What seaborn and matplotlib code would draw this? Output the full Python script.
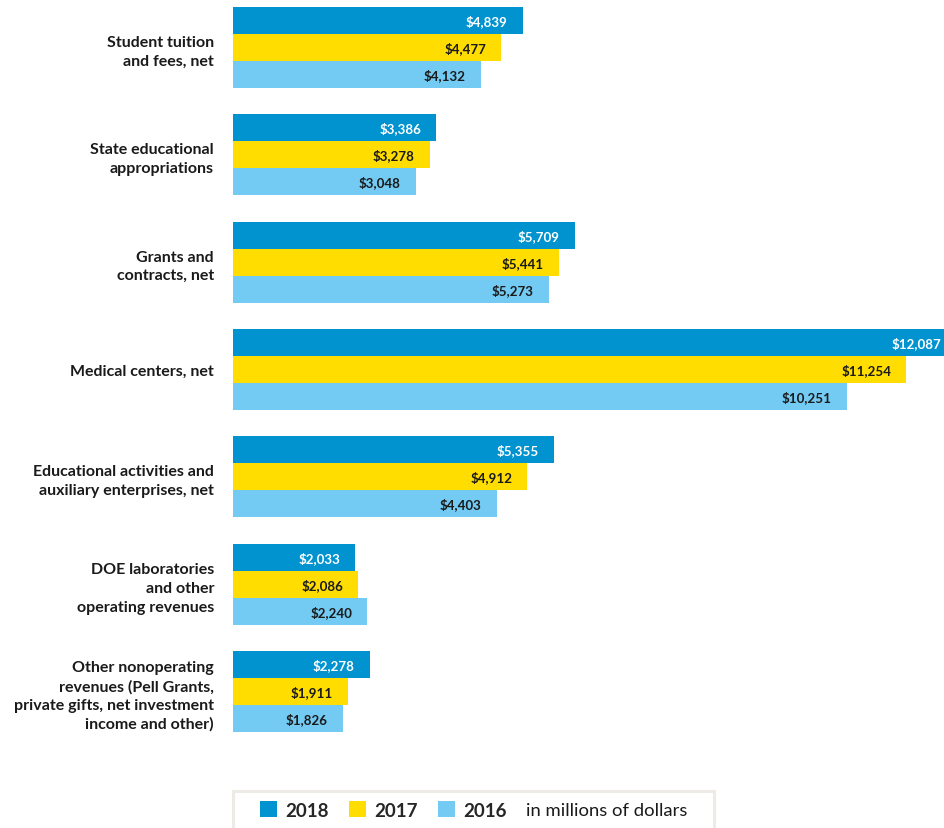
import matplotlib
matplotlib.use("Agg")
import matplotlib.pyplot as plt
from matplotlib.patches import Rectangle, Patch
import pandas as pd
import seaborn as sns

categories = [
    "Student tuition\nand fees, net",
    "State educational\nappropriations",
    "Grants and\ncontracts, net",
    "Medical centers, net",
    "Educational activities and\nauxiliary enterprises, net",
    "DOE laboratories\nand other\noperating revenues",
    "Other nonoperating\nrevenues (Pell Grants,\nprivate gifts, net investment\nincome and other)",
]
years = ["2018", "2017", "2016"]
values_2018 = [4839, 3386, 5709, 12087, 5355, 2033, 2278]
values_2017 = [4477, 3278, 5441, 11254, 4912, 2086, 1911]
values_2016 = [4132, 3048, 5273, 10251, 4403, 2240, 1826]
colors = ["#0093CF", "#FFDD00", "#73CBF3"]
label_colors = ["white", "#1a1a1a", "#1a1a1a"]

df = pd.DataFrame({
    "category": categories * 3,
    "year": [years[0]] * 7 + [years[1]] * 7 + [years[2]] * 7,
    "value": values_2018 + values_2017 + values_2016,
})

sns.set_theme(style="white")
plt.rcParams["font.family"] = ["Lato", "DejaVu Sans"]

W, H = 945, 829
fig = plt.figure(figsize=(W / 100, H / 100), dpi=100)
ax = fig.add_axes([233.5 / W, 0, 1 - 233.5 / W, 1])
ax.patch.set_visible(False)

sns.barplot(data=df, y="category", x="value", hue="year", hue_order=years,
            palette=colors, orient="h", width=0.755, gap=0, dodge=True,
            saturation=1, ax=ax, legend=False, errorbar=None, linewidth=0)

ax.set_xlim(0, (W - 233.5) / 0.0598)
ax.set_ylim(6 + (H - 692.5) / 107.33, -48.5 / 107.33)
ax.set_xlabel("")
ax.set_ylabel("")
ax.set_xticks([])
for s in ax.spines.values():
    s.set_visible(False)
ax.tick_params(axis="y", length=0, pad=14)
for t in ax.get_yticklabels():
    t.set_fontsize(11.5)
    t.set_fontweight("bold")
    t.set_color("#1a1a1a")
    t.set_linespacing(1.42)

for cont, lc in zip(ax.containers, label_colors):
    for bar, val in zip(cont, cont.datavalues):
        ax.annotate(f"${val:,.0f}", xy=(val, bar.get_y() + bar.get_height() / 2),
                    xytext=(-15, 0), textcoords="offset pixels", ha="right",
                    va="center", fontsize=9.6, fontweight="bold", color=lc,
                    annotation_clip=False)

# legend box at the bottom
fig.add_artist(Rectangle((233.5 / W, -0.02), (714 - 233.5) / W, (H - 791.5) / H + 0.02,
                         transform=fig.transFigure, facecolor="white",
                         edgecolor="#EEEAE5", linewidth=2.2, zorder=2))
handles = [Patch(facecolor=c, edgecolor="none") for c in colors]
leg = fig.legend(handles, years, loc="center left",
                 bbox_to_anchor=(260 / W, 1 - 811 / H), ncol=3, frameon=False,
                 prop={"weight": "bold", "size": 13.5}, handlelength=0.9,
                 handleheight=0.9, handletextpad=0.43, columnspacing=1.1,
                 borderpad=0, borderaxespad=0)
leg.set_zorder(3)
fig.text(526 / W, 1 - 811 / H, "in millions of dollars", ha="left", va="center",
         fontsize=13.3, color="#1a1a1a", zorder=3)

fig.savefig("out.png", dpi=100)
